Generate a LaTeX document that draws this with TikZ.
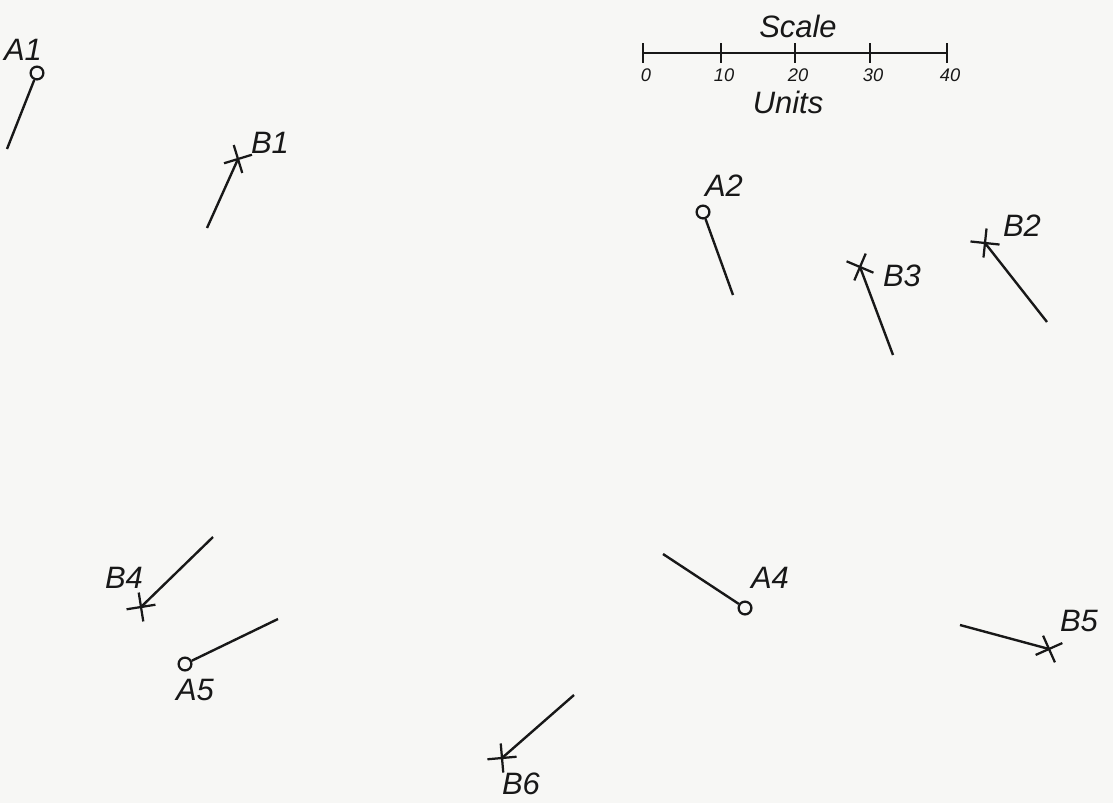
\documentclass[tikz,border=0pt]{standalone}
\usepackage{fontspec}
\setsansfont{Liberation Sans}
\usetikzlibrary{shapes.misc}
\definecolor{papier}{RGB}{247,247,245}
\definecolor{tinte}{RGB}{24,24,24}

\begin{document}
\begin{tikzpicture}[
    x=0.025cm, y=-0.025cm,
    kreis/.style={
        draw=tinte,
        circle,
        line width=1.6pt,
        minimum size=0.32cm,
        inner sep=0pt
    },
    kreuz/.style={
        draw=tinte,
        cross out,
        line width=1.6pt,
        minimum size=0.46cm,
        inner sep=0pt
    },
    stiel/.style={
        draw=tinte,
        line width=1.7pt
    },
    marke/.style={
        font=\fontsize{22}{24}\selectfont\sffamily\itshape,
        text=tinte,
        inner sep=0pt
    },
    zahl/.style={
        font=\fontsize{13}{15}\selectfont\sffamily\itshape,
        text=tinte,
        inner sep=0pt
    }
]

\useasboundingbox[fill=papier] (0,0) rectangle (1113,803);

% scale bar
\coordinate (s0) at (643,53);
\coordinate (s40) at (947,53);
\draw[stiel] (s0) -- (s40);
\foreach \x/\n in {643/0, 721/10, 795/20, 870/30, 947/40} {
    \draw[stiel] (\x,43) -- (\x,63);
    \node[zahl] at (\x+3,75) {\n};
}
\node[marke] (scale) at (798,26) {Scale};
\node[marke] (units) at (788,102) {Units};

% circles
\node[kreis] (a1) at (37,73) {};
\node[kreis] (a2) at (703,212) {};
\node[kreis] (a4) at (745,608) {};
\node[kreis] (a5) at (185,664) {};

% crosses
\node[kreuz, rotate=-28] (b1) at (238,159) {};
\node[kreuz, rotate=-51] (b2) at (985,243) {};
\node[kreuz, rotate=-68] (b3) at (860,267) {};
\node[kreuz, rotate=-36] (b4) at (141,607) {};
\node[kreuz, rotate=-21] (b5) at (1049,649) {};
\node[kreuz, rotate=-40] (b6) at (502,758) {};

% free ends
\coordinate (a1e) at (7,149);
\coordinate (a2e) at (733,295);
\coordinate (a4e) at (663,554);
\coordinate (a5e) at (278,619);
\coordinate (b1e) at (207,228);
\coordinate (b2e) at (1047,322);
\coordinate (b3e) at (893,355);
\coordinate (b4e) at (213,537);
\coordinate (b5e) at (960,625);
\coordinate (b6e) at (574,695);

\draw[stiel] (a1) -- (a1e);
\draw[stiel] (a2) -- (a2e);
\draw[stiel] (a4) -- (a4e);
\draw[stiel] (a5) -- (a5e);
\draw[stiel] (b1.center) -- (b1e);
\draw[stiel] (b2.center) -- (b2e);
\draw[stiel] (b3.center) -- (b3e);
\draw[stiel] (b4.center) -- (b4e);
\draw[stiel] (b5.center) -- (b5e);
\draw[stiel] (b6.center) -- (b6e);

% labels
\node[marke] (a1t) at (23,50) {A1};
\node[marke] (a2t) at (724,186) {A2};
\node[marke] (a4t) at (770,578) {A4};
\node[marke] (a5t) at (195,690) {A5};
\node[marke] (b1t) at (270,143) {B1};
\node[marke] (b2t) at (1022,226) {B2};
\node[marke] (b3t) at (902,276) {B3};
\node[marke] (b4t) at (124,578) {B4};
\node[marke] (b5t) at (1079,621) {B5};
\node[marke] (b6t) at (521,784) {B6};

\end{tikzpicture}
\end{document}
